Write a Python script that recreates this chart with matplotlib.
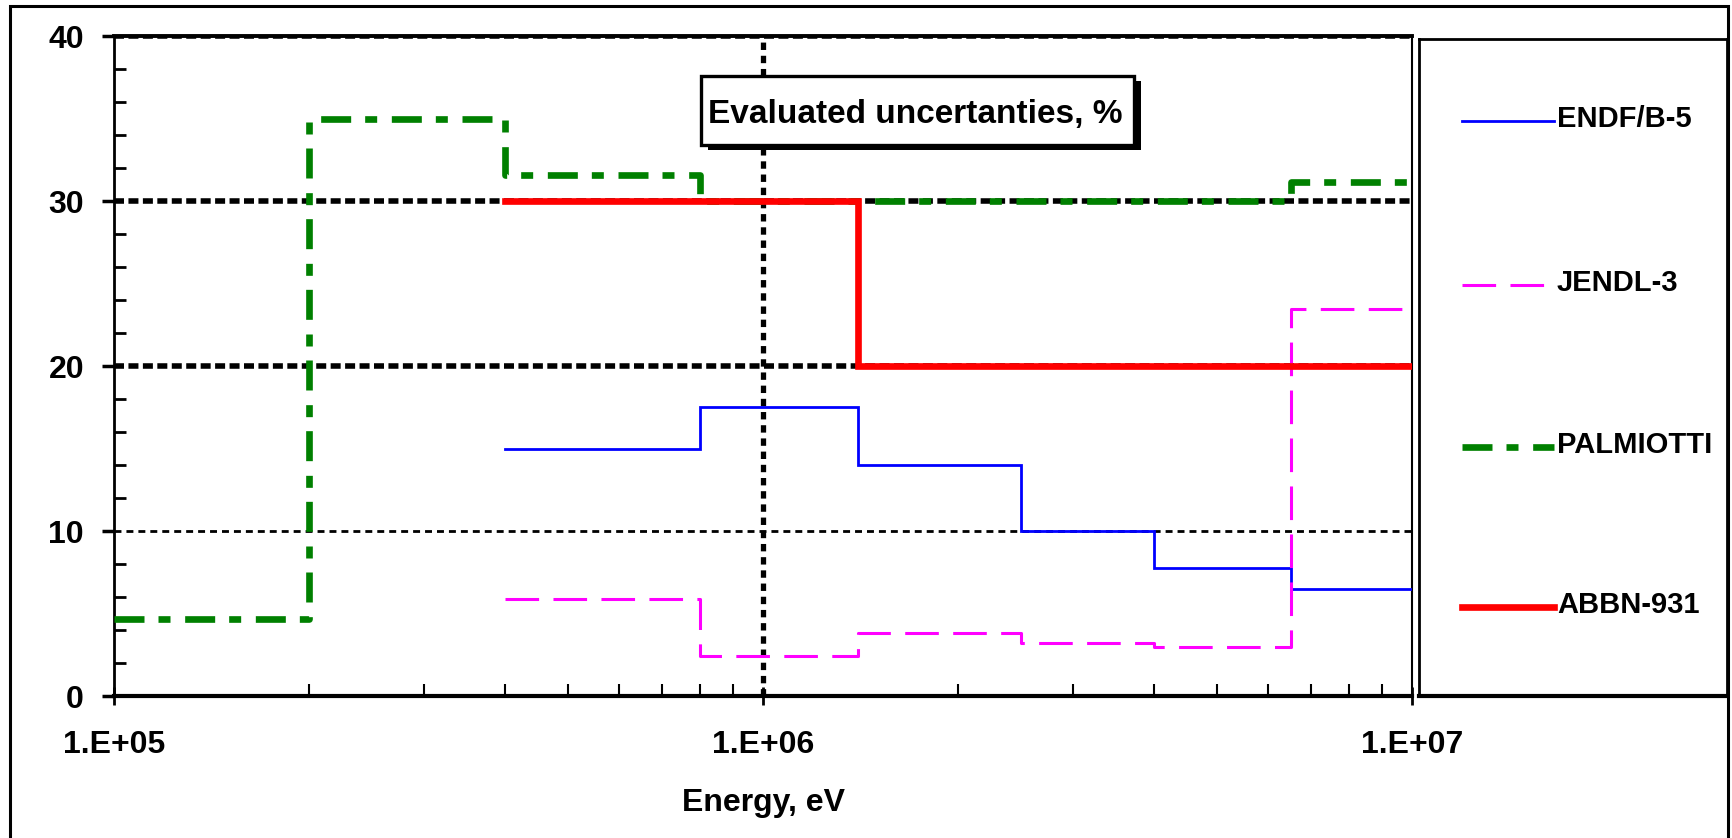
import numpy as np
import matplotlib.pyplot as plt
from matplotlib.patches import Rectangle
from matplotlib.ticker import FixedLocator, NullFormatter, LogLocator

plt.rcParams['font.family'] = ['Liberation Sans', 'DejaVu Sans']
plt.rcParams['font.weight'] = 'bold'

# group boundaries (eV) and uncertainties (%)
edges_eval = [4e5, 8e5, 1.4e6, 2.5e6, 4e6, 6.5e6, 1e7]
endf_b5 = [15.0, 17.5, 14.0, 10.0, 7.75, 6.5]
jendl_3 = [5.9, 2.4, 3.85, 3.2, 2.95, 23.5]

edges_palmiotti = [1e5, 2e5, 4e5, 8e5, 6.5e6, 1e7]
palmiotti = [4.65, 35.0, 31.6, 30.0, 31.2]

edges_abbn = [4e5, 1.4e6, 1e7]
abbn_931 = [30.0, 20.0]

series_names = ['ENDF/B-5', 'JENDL-3', 'PALMIOTTI', 'ABBN-931']
xtick_vals = [1e5, 1e6, 1e7]
xtick_labels = ['1.E+05', '1.E+06', '1.E+07']
ytick_vals = [0, 10, 20, 30, 40]

styles = {
    'ENDF/B-5': dict(color='#0000ff', lw=2.0, ls='-'),
    'JENDL-3': dict(color='#ff00ff', lw=2.2, ls=(0, (11, 4.7))),
    'PALMIOTTI': dict(color='#008000', lw=4.8, ls=(0, (4.5, 2.1, 1.8, 2.2))),
    'ABBN-931': dict(color='#ff0000', lw=4.8, ls='-'),
}

W, H = 1732, 838
fig = plt.figure(figsize=(W / 100, H / 100), dpi=100)

# outer frame
fig.add_artist(Rectangle((10 / W, -0.05), 1718 / W, 1.05 - 6 / H, transform=fig.transFigure,
                         fill=False, ec='black', lw=2.2, zorder=0))

ax = fig.add_axes([114 / W, 142 / H, 1298 / W, 659.5 / H])
ax.set_xscale('log')

# grid
for gy in [10, 20, 30, 40]:
    lw = 2.0 if gy == 10 else 4.0
    dash = (0, (2.5, 1.8)) if gy == 10 else (0, (1.8, 0.8))
    ax.axhline(gy, color='black', lw=lw, ls=dash, zorder=1)
ax.axvline(1e6, color='black', lw=3.8, ls=(0, (1.4, 1.1)), zorder=1)

def steps(edges, vals, name):
    ax.step(edges, list(vals) + [vals[-1]], where='post', zorder=3,
            solid_joinstyle='miter', dash_capstyle='butt', **styles[name])

steps(edges_eval, endf_b5, 'ENDF/B-5')
steps(edges_eval, jendl_3, 'JENDL-3')
steps(edges_palmiotti, palmiotti, 'PALMIOTTI')
steps(edges_abbn, abbn_931, 'ABBN-931')

ax.set_xlim(1e5, 1e7)
ax.set_ylim(0, 40)
ax.set_xticks(xtick_vals, xtick_labels)
ax.xaxis.set_minor_locator(LogLocator(base=10, subs=np.arange(2, 10)))
ax.xaxis.set_minor_formatter(NullFormatter())
ax.set_yticks(ytick_vals)
ax.yaxis.set_minor_locator(FixedLocator(np.arange(0, 41, 2)))
ax.tick_params(axis='x', which='major', direction='inout', length=13, width=2, pad=18,
               labelsize=23)
ax.tick_params(axis='x', which='minor', direction='in', length=8.6, width=1.5)
ax.tick_params(axis='y', which='major', direction='out', length=8.6, width=2.5, pad=13,
               labelsize=23)
ax.tick_params(axis='y', which='minor', direction='in', length=8.6, width=2)

ax.spines['top'].set_linewidth(2.8)
ax.spines['right'].set_linewidth(1.5)
ax.spines['left'].set_linewidth(2)
ax.spines['bottom'].set_linewidth(3)

ax.set_xlabel('Energy, eV', fontsize=23, fontweight='bold')
ax.xaxis.set_label_coords(0.5, -0.1395)

# title box with shadow
bx0, by0, bw, bh = 701 / W, 1 - 145 / H, 433 / W, 69 / H
fig.add_artist(Rectangle((bx0 + 7 / W, by0 - 5 / H), bw, bh, transform=fig.transFigure,
                         fc='black', ec='black', lw=0, zorder=5))
fig.add_artist(Rectangle((bx0, by0), bw, bh, transform=fig.transFigure,
                         fc='white', ec='black', lw=2.4, zorder=6))
fig.text(915 / W, 1 - 122.5 / H, 'Evaluated uncertanties, %', ha='center', va='baseline',
         fontsize=24, fontweight='bold', zorder=7)

# legend panel
lax = fig.add_axes([1419 / W, 142 / H, 308 / W, 657 / H])
lax.set_xlim(0, 1)
lax.set_ylim(0, 1)
lax.set_xticks([])
lax.set_yticks([])
for s in ['left', 'top', 'right']:
    lax.spines[s].set_linewidth(2)
lax.spines['bottom'].set_linewidth(3)
leg_y = [0.875, 0.6256, 0.379, 0.135]
for name, ly in zip(series_names, leg_y):
    lax.plot([0.14, 0.438], [ly, ly], dash_capstyle='butt', **styles[name])
    lax.text(0.448, ly - 0.009, name, ha='left', va='baseline', fontsize=21,
             fontweight='bold')

fig.savefig('out.png', dpi=100)
